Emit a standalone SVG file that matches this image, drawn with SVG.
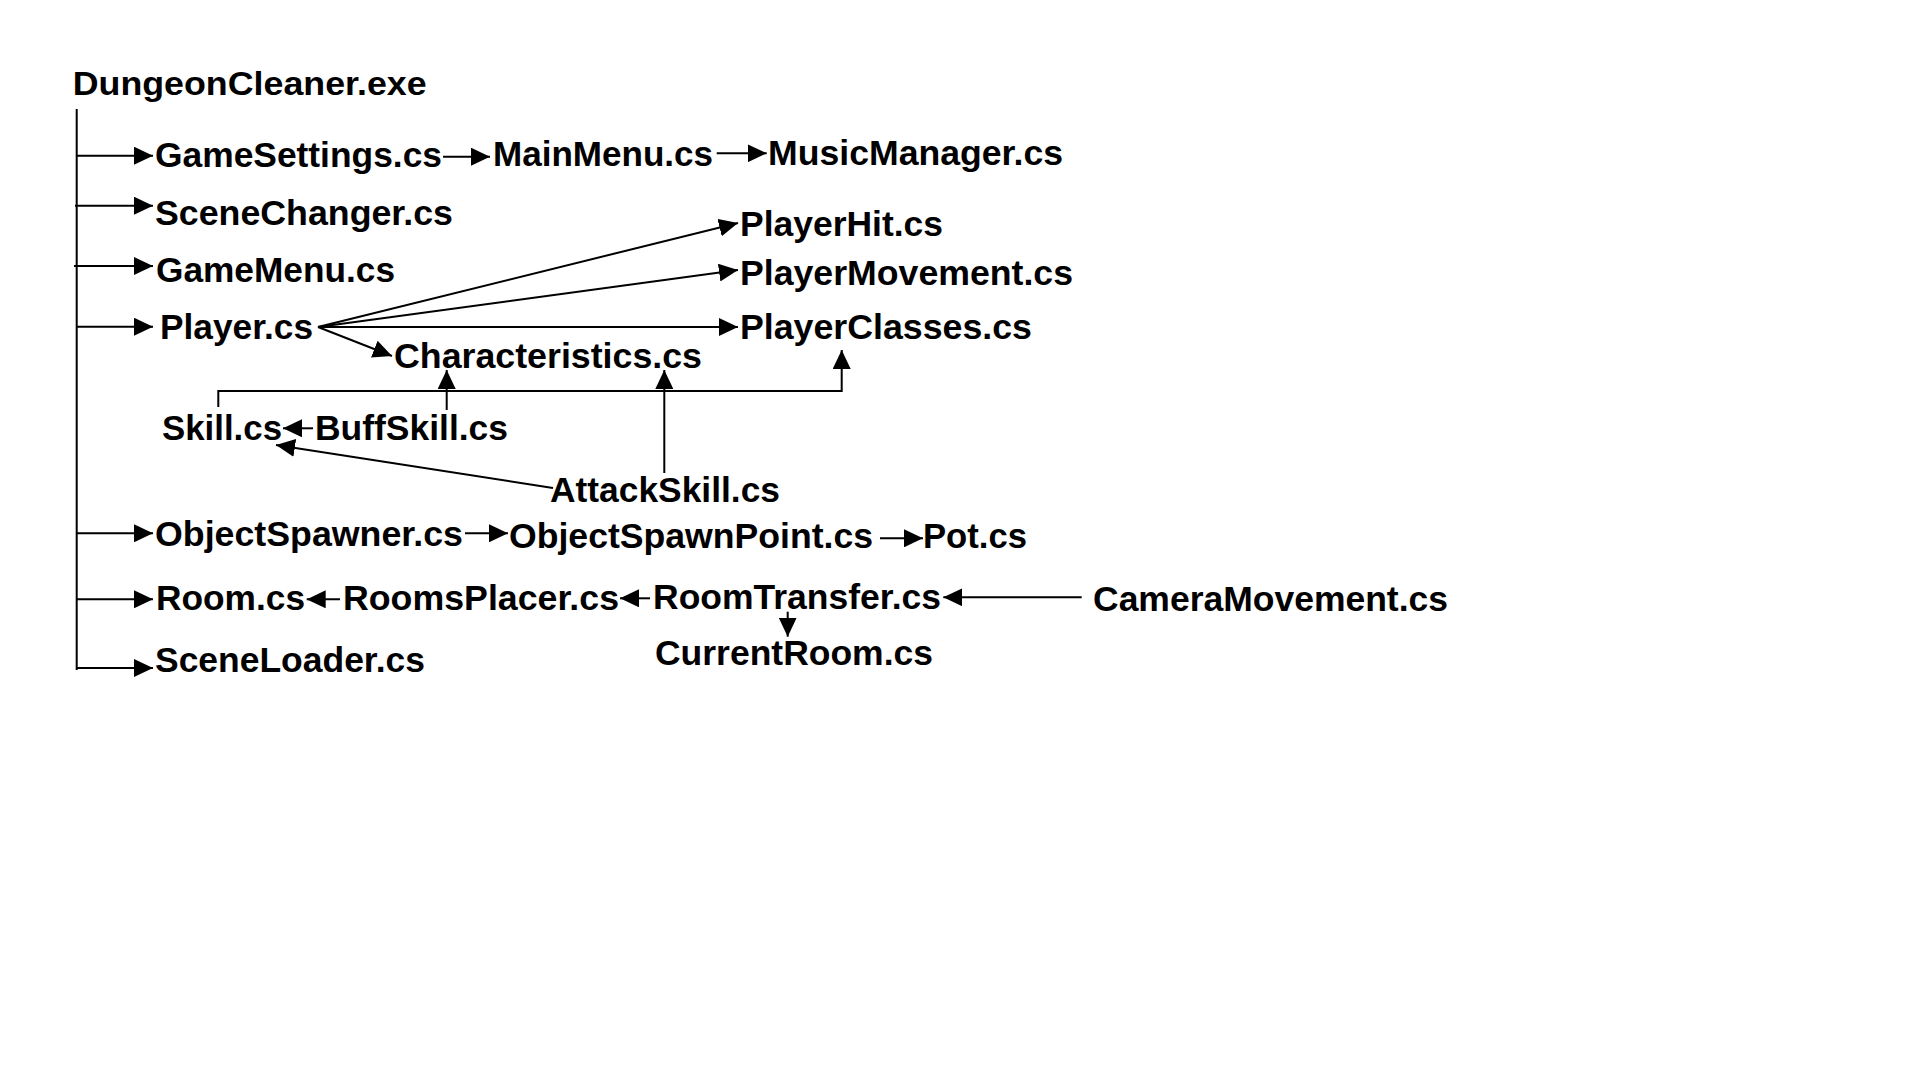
<svg xmlns="http://www.w3.org/2000/svg" width="1920" height="1080" viewBox="0 0 1920 1080">
<style>
text{font-family:"Liberation Sans",Arial,sans-serif;font-weight:bold;font-size:35px;fill:#000}
.t{font-size:33px}
#connectors path{fill:none;stroke:#000;stroke-width:2;marker-end:url(#ah)}
#connectors path.n{marker-end:none}
</style>
<defs>
<marker id="ah" markerUnits="userSpaceOnUse" markerWidth="19" markerHeight="18" refX="19" refY="9" orient="auto">
<path d="M0,0 L19,9 L0,18 z" fill="#000"/>
</marker>
</defs>
<rect width="1920" height="1080" fill="#fff"/>
<g id="connectors">
<path class="n" d="M76.7,109 V670"/>
<path d="M76.7,155.7 H153"/>
<path d="M75,205.7 H153"/>
<path d="M74,266 H153"/>
<path d="M76.7,326.7 H153"/>
<path d="M76.7,533.3 H153"/>
<path d="M76.7,599.3 H153"/>
<path d="M76.7,668 H153"/>
<path d="M443,156.7 H490"/>
<path d="M716.7,153.3 H766.7"/>
<path d="M318,327 L738,223"/>
<path d="M318,327 L738,270"/>
<path d="M318,327 L738,327"/>
<path d="M318,327 L392,356"/>
<path d="M218.3,407 V391 H841.7 V350"/>
<path d="M446.7,410 V370"/>
<path d="M664.3,473 V370"/>
<path d="M313,428.3 H283"/>
<path d="M553,488 L276,445"/>
<path d="M465,533.3 H508"/>
<path d="M880,538.3 H923"/>
<path d="M340,599.3 H306.7"/>
<path d="M650,598.3 H620"/>
<path d="M1081.7,597.3 H943.3"/>
<path d="M787.7,611.7 V636.7"/>
</g>
<g id="n-root"><text class="t" x="72.7" y="95" textLength="354" lengthAdjust="spacingAndGlyphs">DungeonCleaner.exe</text></g>
<g id="n-gamesettings"><text x="155" y="167" textLength="287" lengthAdjust="spacingAndGlyphs">GameSettings.cs</text></g>
<g id="n-mainmenu"><text x="493" y="166" textLength="220" lengthAdjust="spacingAndGlyphs">MainMenu.cs</text></g>
<g id="n-musicmanager"><text x="768" y="165" textLength="295" lengthAdjust="spacingAndGlyphs">MusicManager.cs</text></g>
<g id="n-scenechanger"><text x="155" y="225" textLength="298" lengthAdjust="spacingAndGlyphs">SceneChanger.cs</text></g>
<g id="n-gamemenu"><text x="156" y="282" textLength="239" lengthAdjust="spacingAndGlyphs">GameMenu.cs</text></g>
<g id="n-player"><text x="160" y="339" textLength="153" lengthAdjust="spacingAndGlyphs">Player.cs</text></g>
<g id="n-playerhit"><text x="740" y="236" textLength="203" lengthAdjust="spacingAndGlyphs">PlayerHit.cs</text></g>
<g id="n-playermovement"><text x="740" y="285" textLength="333" lengthAdjust="spacingAndGlyphs">PlayerMovement.cs</text></g>
<g id="n-playerclasses"><text x="740" y="339" textLength="292" lengthAdjust="spacingAndGlyphs">PlayerClasses.cs</text></g>
<g id="n-characteristics"><text x="394" y="368" textLength="308" lengthAdjust="spacingAndGlyphs">Characteristics.cs</text></g>
<g id="n-skill"><text x="162" y="440" textLength="120" lengthAdjust="spacingAndGlyphs">Skill.cs</text></g>
<g id="n-buffskill"><text x="315" y="440" textLength="193" lengthAdjust="spacingAndGlyphs">BuffSkill.cs</text></g>
<g id="n-attackskill"><text x="550" y="502" textLength="230" lengthAdjust="spacingAndGlyphs">AttackSkill.cs</text></g>
<g id="n-objectspawner"><text x="155" y="546" textLength="308" lengthAdjust="spacingAndGlyphs">ObjectSpawner.cs</text></g>
<g id="n-objectspawnpoint"><text x="509" y="548" textLength="364" lengthAdjust="spacingAndGlyphs">ObjectSpawnPoint.cs</text></g>
<g id="n-pot"><text x="923" y="548" textLength="104" lengthAdjust="spacingAndGlyphs">Pot.cs</text></g>
<g id="n-room"><text x="156" y="610" textLength="149" lengthAdjust="spacingAndGlyphs">Room.cs</text></g>
<g id="n-roomsplacer"><text x="343" y="610" textLength="276" lengthAdjust="spacingAndGlyphs">RoomsPlacer.cs</text></g>
<g id="n-roomtransfer"><text x="653" y="609" textLength="288" lengthAdjust="spacingAndGlyphs">RoomTransfer.cs</text></g>
<g id="n-cameramovement"><text x="1093" y="611" textLength="355" lengthAdjust="spacingAndGlyphs">CameraMovement.cs</text></g>
<g id="n-currentroom"><text x="655" y="665" textLength="278" lengthAdjust="spacingAndGlyphs">CurrentRoom.cs</text></g>
<g id="n-sceneloader"><text x="155" y="672" textLength="270" lengthAdjust="spacingAndGlyphs">SceneLoader.cs</text></g>
</svg>
